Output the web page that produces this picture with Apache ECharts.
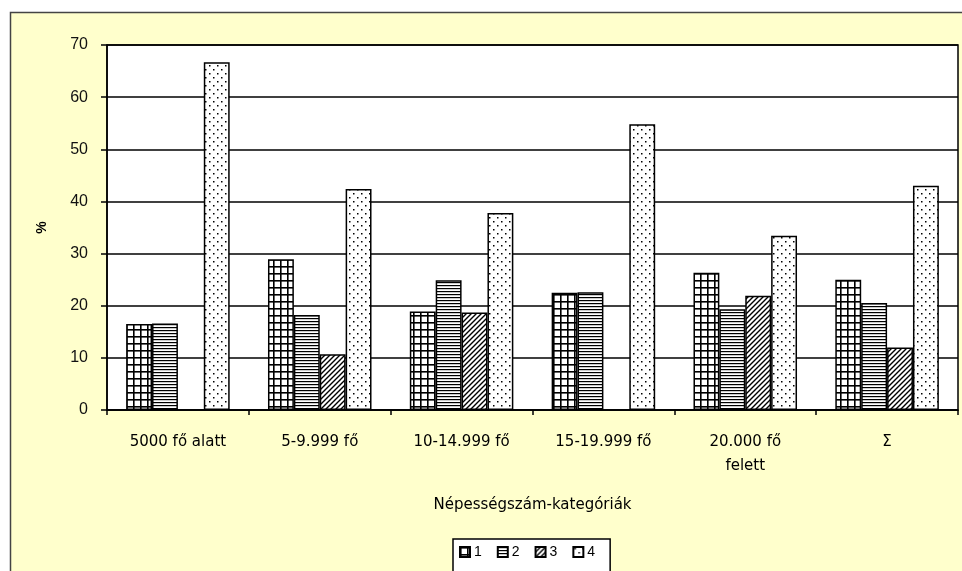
<!DOCTYPE html>
<html>
<head>
<meta charset="utf-8">
<script src="https://cdn.jsdelivr.net/npm/echarts@6/dist/echarts.min.js"></script>
<style>
  html, body { margin: 0; padding: 0; background: #ffffff; }
  #chart { width: 962px; height: 571px; }
</style>
</head>
<body>
<div id="chart"></div>
<script>
// adatok
const categories = ['5000 fő alatt', '5-9.999 fő', '10-14.999 fő', '15-19.999 fő', '20.000 fő\nfelett', 'Σ'];
const seriesNames = ['1', '2', '3', '4'];
const s1 = [16.5, 28.9, 18.9, 22.5, 26.3, 25.0];
const s2 = [16.6, 18.2, 24.9, 22.6, 19.3, 20.5];
const s3 = [null, 10.7, 18.7, null, 21.9, 12.0];
const s4 = [66.7, 42.4, 37.8, 54.8, 33.4, 43.0];
const yTicks = [0, 10, 20, 30, 40, 50, 60, 70];

// mintázatok (kitöltés)
function makePattern(w, h, draw) {
  const c = document.createElement('canvas');
  c.width = w; c.height = h;
  const ctx = c.getContext('2d');
  ctx.fillStyle = '#ffffff';
  ctx.fillRect(0, 0, w, h);
  ctx.fillStyle = '#000000';
  ctx.strokeStyle = '#000000';
  draw(ctx);
  return { image: c, repeat: 'repeat' };
}

const patGrid = makePattern(7, 7, ctx => {
  ctx.fillRect(0, 0, 7, 1.6);
  ctx.fillRect(0, 0, 1.6, 7);
});
const patHoriz = makePattern(3, 3, ctx => {
  ctx.fillRect(0, 0, 3, 1.2);
});
const patDiag = makePattern(5, 5, ctx => {
  ctx.lineWidth = 1.4;
  ctx.beginPath();
  ctx.moveTo(-1, 6); ctx.lineTo(6, -1);
  ctx.moveTo(-1, 1); ctx.lineTo(1, -1);
  ctx.moveTo(4, 6); ctx.lineTo(6, 4);
  ctx.stroke();
});
const patDots = makePattern(8, 8, ctx => {
  ctx.fillRect(1, 1, 1.5, 1.5);
  ctx.fillRect(5, 5, 1.5, 1.5);
});

const patterns = [patGrid, patHoriz, patDiag, patDots];
const values = [s1, s2, s3, s4];

const chart = echarts.init(document.getElementById('chart'));

chart.setOption({
  animation: false,
  backgroundColor: '#ffffff',
  textStyle: { fontFamily: 'Arial, "Liberation Sans", sans-serif', color: '#000' },
  graphic: [{
    type: 'rect',
    shape: { x: 10.5, y: 12.5, width: 1000, height: 600 },
    style: { fill: '#ffffcc', stroke: '#444', lineWidth: 1.5 },
    z: -10, silent: true
  }],
  grid: {
    left: 107, right: 4, top: 45, bottom: 161,
    show: true,
    backgroundColor: '#ffffff',
    borderColor: '#000',
    borderWidth: 1.5
  },
  legend: {
    data: seriesNames,
    left: 453, top: 539,
    icon: 'rect',
    itemWidth: 10, itemHeight: 10,
    itemGap: 15,
    padding: [6, 15, 30, 6],
    backgroundColor: '#ffffff',
    borderColor: '#000',
    borderWidth: 1.5,
    borderRadius: 0,
    textStyle: { fontSize: 14, color: '#000', padding: [0, 0, 0, -1] }
  },
  xAxis: {
    type: 'category',
    data: categories,
    name: 'Népességszám-kategóriák',
    nameLocation: 'middle',
    nameGap: 88,
    nameTextStyle: { fontSize: 15, fontFamily: '"DejaVu Sans", sans-serif', color: '#000' },
    axisLine: { lineStyle: { color: '#000', width: 1.5 } },
    axisTick: { show: true, length: 5, lineStyle: { color: '#000', width: 1.5 } },
    axisLabel: {
      fontSize: 15, fontFamily: '"DejaVu Sans", sans-serif', color: '#000',
      margin: 20, lineHeight: 24
    }
  },
  yAxis: {
    type: 'value',
    min: 0, max: 70, interval: 10,
    name: '%',
    nameLocation: 'middle',
    nameGap: 58,
    nameRotate: 90,
    nameTextStyle: { fontSize: 14, fontWeight: 'bold', color: '#000' },
    axisLine: { show: true, lineStyle: { color: '#000', width: 1.5 } },
    axisTick: { show: true, length: 6, lineStyle: { color: '#000', width: 1.5 } },
    axisLabel: {
      fontSize: 16, color: '#111', margin: 19,
      formatter: v => (yTicks.indexOf(v) >= 0 ? String(v) : '')
    },
    splitLine: { show: true, lineStyle: { color: '#000', width: 1.5 } }
  },
  series: seriesNames.map((name, i) => ({
    name: name,
    type: 'bar',
    data: values[i],
    barGap: '0%',
    barCategoryGap: '27%',
    itemStyle: {
      color: patterns[i],
      borderColor: '#000',
      borderWidth: 1.5
    }
  }))
});
</script>
</body>
</html>
